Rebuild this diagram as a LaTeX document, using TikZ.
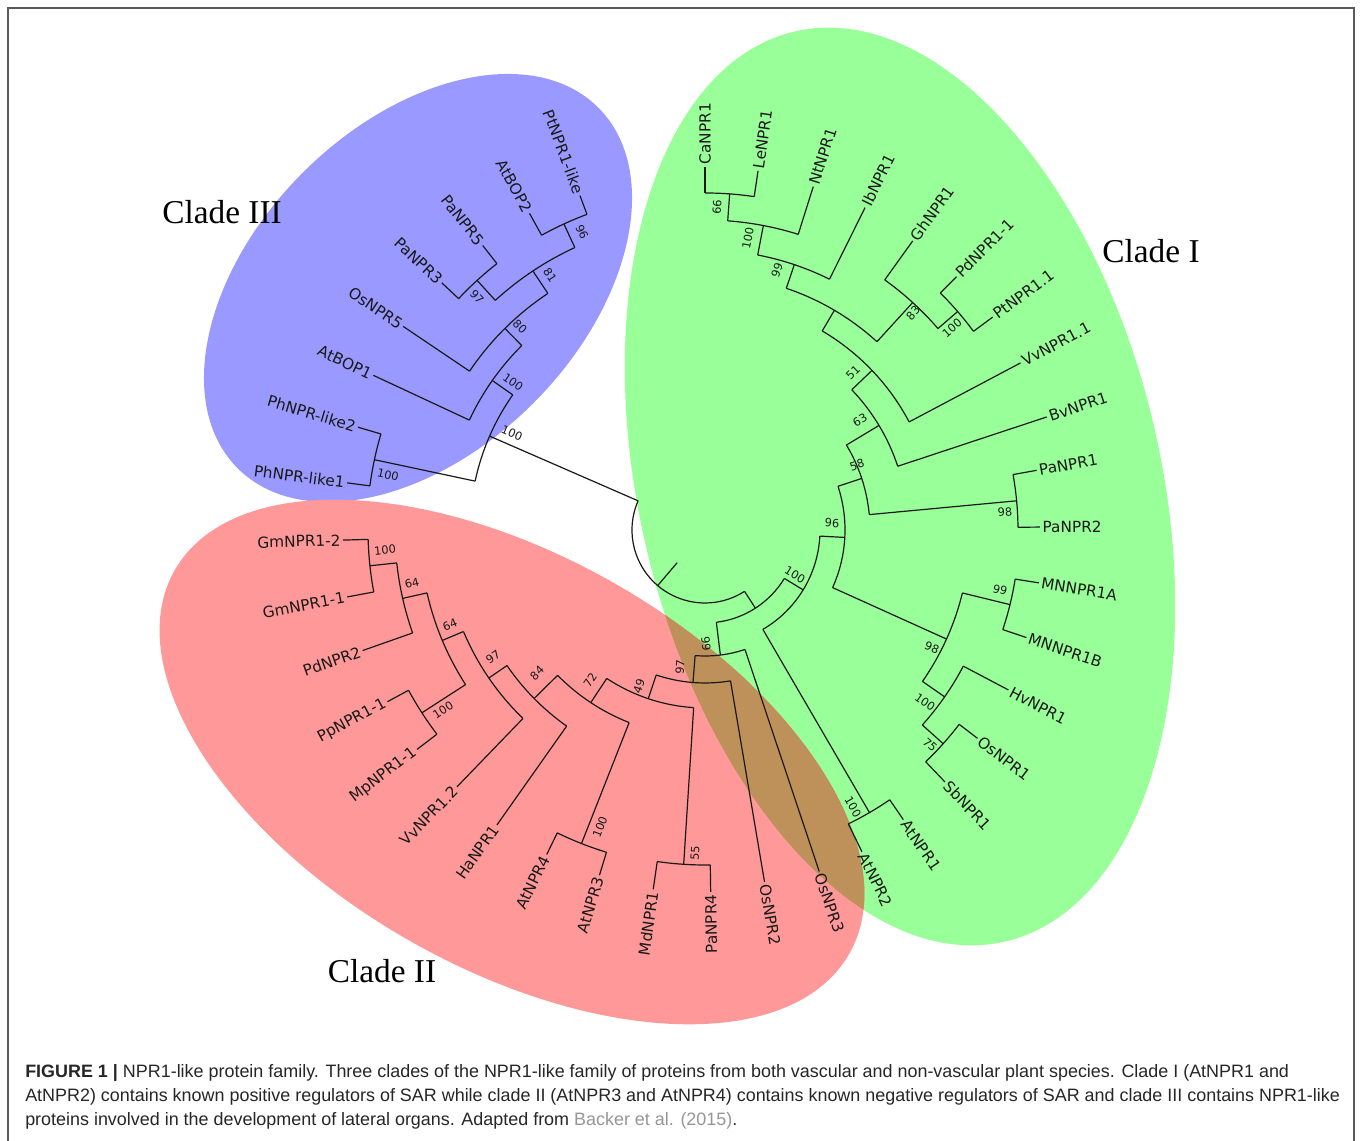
\documentclass[tikz,border=0pt]{standalone}
\usepackage{fontspec}
\usepackage{tikz}
\newfontfamily\leaffont{DejaVu Sans}
\newfontfamily\cladefont{Liberation Serif}
\newfontfamily\capfont{Liberation Sans}
\definecolor{cladeIcol}{RGB}{153,255,153}
\definecolor{cladeIIcol}{RGB}{255,153,153}
\definecolor{cladeIIIcol}{RGB}{153,153,255}
\definecolor{overlapcol}{RGB}{191,145,90}
\definecolor{framecol}{RGB}{90,90,90}
\definecolor{refcol}{RGB}{150,150,150}

\begin{document}
\begin{tikzpicture}[x=0.75pt, y=0.75pt,
        branch/.style={line width=0.9pt, black!90},
        leaf/.style={font=\leaffont\fontsize{11.5}{13}\selectfont, inner sep=1.5pt, text=black!90},
        boot/.style={font=\leaffont\fontsize{8.5}{10}\selectfont, inner sep=0pt, text=black!90},
        clade/.style={font=\cladefont\fontsize{25}{30}\selectfont},
        capline/.style={anchor=base west, inner sep=0pt, font=\capfont\fontsize{13.45}{15}\selectfont, text=black!85}]

        \useasboundingbox (0,0) rectangle (1360,1141);
        \fill[white] (0,0) rectangle (1360,1141);
        \draw[framecol, line width=1.5pt] (8,-5) -- (8,1133) -- (1354,1133) -- (1354,-5);

        % clade ellipses
        \fill[cladeIIIcol, rotate around={45:(418,853)}] (418,853) ellipse [x radius=255, y radius=163];
        \fill[cladeIcol, rotate around={103:(900,654.5)}] (900,654.5) ellipse [x radius=467, y radius=261];
        \fill[cladeIIcol, rotate around={-29.6:(512,379)}] (512,379) ellipse [x radius=388, y radius=206];
        \begin{scope}
            \clip[rotate around={-29.6:(512,379)}] (512,379) ellipse [x radius=388, y radius=206];
            \fill[overlapcol, rotate around={103:(900,654.5)}] (900,654.5) ellipse [x radius=467, y radius=261];
        \end{scope}

        \node[clade] (cladeIII) at (222,929) {Clade III};
        \node[clade] (cladeI) at (1151,890) {Clade I};
        \node[clade] (cladeII) at (382,170) {Clade II};

        % the tree, polar about the centre
        \begin{scope}[shift={(705,611)}, branch]
            \coordinate (root) at (229.6:43);
            % clade I
            \coordinate (nCaLe) at (85.8:337);
            \coordinate (nNt) at (79.15:310);
            \coordinate (nIb) at (71.4:280);
            \coordinate (nPd) at (40.85:334);
            \coordinate (nGh) at (47.6:308);
            \coordinate (nX) at (59.5:255);
            \coordinate (nVv) at (43.7:231);
            \coordinate (nBv) at (31:203);
            \coordinate (nPa) at (5.35:313);
            \coordinate (nPaG) at (18.2:165);
            \coordinate (nMN) at (346.25:314);
            \coordinate (nOs) at (318.1:320);
            \coordinate (nHv) at (325.15:292);
            \coordinate (nMono) at (335.7:265);
            \coordinate (n96) at (356.95:140);
            \coordinate (nAt) at (300.2:327);
            \coordinate (nCladeI) at (328.6:115);
            \coordinate (nA) at (302.8:93);
            % clade II
            \coordinate (n66b) at (277:126);
            \coordinate (n97b) at (265.5:153);
            \coordinate (n49) at (251.4:178);
            \coordinate (n55) at (266.35:335);
            \coordinate (n72) at (236.5:207);
            \coordinate (nAt34) at (248.5:337);
            \coordinate (n84) at (224.6:240);
            \coordinate (n97a) at (214.4:262);
            \coordinate (n64b) at (202.8:285);
            \coordinate (nPpMp) at (212.85:337);
            \coordinate (nPd2) at (192.75:310);
            \coordinate (nGm) at (186.1:337);
            % clade III
            \coordinate (nPh) at (168:338);
            \coordinate (n96c) at (114.75:337);
            \coordinate (n97c) at (132.4:338);
            \coordinate (n81) at (123.6:311);
            \coordinate (n80) at (134.8:284);
            \coordinate (n100c) at (144.9:260);
            \coordinate (n100d) at (156.45:235);

            % stems
            \draw (root) -- (229.6:73);
            \draw (nCaLe) -- (85.8:310);
            \draw (nNt) -- (79.15:280);
            \draw (nIb) -- (71.4:255);
            \draw (nPd) -- (40.85:308);
            \draw (nGh) -- (47.6:255);
            \draw (nX) -- (59.5:231);
            \draw (nVv) -- (43.7:203);
            \draw (nBv) -- (31:165);
            \draw (nPa) -- (5.35:165);
            \draw (nPaG) -- (18.2:140);
            \draw (nMN) -- (346.25:265);
            \draw (nOs) -- (318.1:292);
            \draw (nHv) -- (325.15:265);
            \draw (nMono) -- (335.7:140);
            \draw (n96) -- (356.95:115);
            \draw (nAt) -- (300.2:115);
            \draw (nCladeI) -- (328.6:93);
            \draw (nA) -- (302.8:73);
            \draw (n66b) -- (277:93);
            \draw (n97b) -- (265.5:126);
            \draw (n49) -- (251.4:153);
            \draw (n55) -- (266.35:178);
            \draw (n72) -- (236.5:178);
            \draw (nAt34) -- (248.5:207);
            \draw (n84) -- (224.6:207);
            \draw (n97a) -- (214.4:240);
            \draw (n64b) -- (202.8:262);
            \draw (nPpMp) -- (212.85:285);
            \draw (nPd2) -- (192.75:285);
            \draw (nGm) -- (186.1:310);
            \draw (nPh) -- (168:235);
            \draw (n96c) -- (114.75:311);
            \draw (n97c) -- (132.4:311);
            \draw (n81) -- (123.6:284);
            \draw (n80) -- (134.8:260);
            \draw (n100c) -- (144.9:235);
            \draw (n100d) -- (156.45:73);

            % arcs
            \draw (156.45:73) arc[start angle=156.45, end angle=302.8, radius=73];
            \draw (81.6:337) arc[start angle=81.6, end angle=90, radius=337];
            \draw (72.5:310) arc[start angle=72.5, end angle=85.8, radius=310];
            \draw (63.6:280) arc[start angle=63.6, end angle=79.15, radius=280];
            \draw (36.5:334) arc[start angle=36.5, end angle=45.2, radius=334];
            \draw (40.85:308) arc[start angle=40.85, end angle=54.3, radius=308];
            \draw (47.6:255) arc[start angle=47.6, end angle=71.4, radius=255];
            \draw (27.9:231) arc[start angle=27.9, end angle=59.5, radius=231];
            \draw (18.3:203) arc[start angle=18.3, end angle=43.7, radius=203];
            \draw (0.5:313) arc[start angle=0.5, end angle=10.2, radius=313];
            \draw (5.35:165) arc[start angle=5.35, end angle=31, radius=165];
            \draw (341.5:314) arc[start angle=341.5, end angle=351, radius=314];
            \draw (313.6:320) arc[start angle=313.6, end angle=322.6, radius=320];
            \draw (318.1:292) arc[start angle=318.1, end angle=332.2, radius=292];
            \draw (325.15:265) arc[start angle=325.15, end angle=346.25, radius=265];
            \draw (335.7:140) arc[start angle=335.7, end angle=378.2, radius=140];
            \draw (296:327) arc[start angle=296, end angle=304.4, radius=327];
            \draw (300.2:115) arc[start angle=300.2, end angle=356.95, radius=115];
            \draw (277:93) arc[start angle=277, end angle=328.6, radius=93];
            \draw (265.5:126) arc[start angle=265.5, end angle=288.5, radius=126];
            \draw (251.4:153) arc[start angle=251.4, end angle=279.6, radius=153];
            \draw (236.5:178) arc[start angle=236.5, end angle=266.35, radius=178];
            \draw (261.8:335) arc[start angle=261.8, end angle=270.9, radius=335];
            \draw (224.6:207) arc[start angle=224.6, end angle=248.5, radius=207];
            \draw (244:337) arc[start angle=244, end angle=253, radius=337];
            \draw (214.4:240) arc[start angle=214.4, end angle=234.8, radius=240];
            \draw (202.8:262) arc[start angle=202.8, end angle=226, radius=262];
            \draw (192.75:285) arc[start angle=192.75, end angle=212.85, radius=285];
            \draw (208.4:337) arc[start angle=208.4, end angle=217.3, radius=337];
            \draw (186.1:310) arc[start angle=186.1, end angle=199.4, radius=310];
            \draw (181.6:337) arc[start angle=181.6, end angle=190.6, radius=337];
            \draw (163.5:338) arc[start angle=163.5, end angle=172.5, radius=338];
            \draw (110.5:337) arc[start angle=110.5, end angle=119, radius=337];
            \draw (128:338) arc[start angle=128, end angle=136.8, radius=338];
            \draw (114.75:311) arc[start angle=114.75, end angle=132.4, radius=311];
            \draw (123.6:284) arc[start angle=123.6, end angle=146, radius=284];
            \draw (134.8:260) arc[start angle=134.8, end angle=155, radius=260];
            \draw (144.9:235) arc[start angle=144.9, end angle=168, radius=235];

            % leaves, clade I
            \node[leaf, anchor=west, rotate=90] (CaNPR1) at (90:363) {CaNPR1};
            \node[leaf, anchor=west, rotate=81.6] (LeNPR1) at (81.6:363) {LeNPR1};
            \node[leaf, anchor=west, rotate=72.5] (NtNPR1) at (72.5:360) {NtNPR1};
            \node[leaf, anchor=west, rotate=63.6] (IbNPR1) at (63.6:360) {IbNPR1};
            \node[leaf, anchor=west, rotate=54.3] (GhNPR1) at (54.3:356) {GhNPR1};
            \node[leaf, anchor=west, rotate=45.2] (PdNPR1-1) at (45.2:357) {PdNPR1-1};
            \node[leaf, anchor=west, rotate=36.5] (PtNPR11) at (36.5:358) {PtNPR1.1};
            \node[leaf, anchor=west, rotate=27.9] (VvNPR11) at (27.9:357) {VvNPR1.1};
            \node[leaf, anchor=west, rotate=18.3] (BvNPR1) at (18.3:360) {BvNPR1};
            \node[leaf, anchor=west, rotate=10.2] (PaNPR1) at (10.2:337) {PaNPR1};
            \node[leaf, anchor=west, rotate=0.5] (PaNPR2) at (0.5:335) {PaNPR2};
            \node[leaf, anchor=west, rotate=351] (MNNPR1A) at (351:338) {MNNPR1A};
            \node[leaf, anchor=west, rotate=341.5] (MNNPR1B) at (341.5:339) {MNNPR1B};
            \node[leaf, anchor=west, rotate=332.2] (HvNPR1) at (332.2:343) {HvNPR1};
            \node[leaf, anchor=west, rotate=322.6] (OsNPR1) at (322.6:343) {OsNPR1};
            \node[leaf, anchor=west, rotate=313.6] (SbNPR1) at (313.6:348) {SbNPR1};
            \node[leaf, anchor=west, rotate=304.4] (AtNPR1) at (304.4:351) {AtNPR1};
            \node[leaf, anchor=west, rotate=296] (AtNPR2) at (296:358) {AtNPR2};
            \draw (90:337) -- (CaNPR1.west);
            \draw (81.6:337) -- (LeNPR1.west);
            \draw (72.5:310) -- (NtNPR1.west);
            \draw (63.6:280) -- (IbNPR1.west);
            \draw (54.3:308) -- (GhNPR1.west);
            \draw (45.2:334) -- (PdNPR1-1.west);
            \draw (36.5:334) -- (PtNPR11.west);
            \draw (27.9:231) -- (VvNPR11.west);
            \draw (18.3:203) -- (BvNPR1.west);
            \draw (10.2:313) -- (PaNPR1.west);
            \draw (0.5:313) -- (PaNPR2.west);
            \draw (351:314) -- (MNNPR1A.west);
            \draw (341.5:314) -- (MNNPR1B.west);
            \draw (332.2:292) -- (HvNPR1.west);
            \draw (322.6:320) -- (OsNPR1.west);
            \draw (313.6:320) -- (SbNPR1.west);
            \draw (304.4:327) -- (AtNPR1.west);
            \draw (296:327) -- (AtNPR2.west);

            % leaves, clade II
            \node[leaf, anchor=west, rotate=288.5] (OsNPR3) at (288.5:360) {OsNPR3};
            \node[leaf, anchor=west, rotate=279.6] (OsNPR2) at (279.6:357) {OsNPR2};
            \node[leaf, anchor=east, rotate=90.9] (PaNPR4) at (270.9:362) {PaNPR4};
            \node[leaf, anchor=east, rotate=81.8] (MdNPR1) at (261.8:363) {MdNPR1};
            \node[leaf, anchor=east, rotate=73] (AtNPR3) at (253:361) {AtNPR3};
            \node[leaf, anchor=east, rotate=64] (AtNPR4) at (244:361) {AtNPR4};
            \node[leaf, anchor=east, rotate=54.8] (HaNPR1) at (234.8:361) {HaNPR1};
            \node[leaf, anchor=east, rotate=46] (VvNPR12) at (226:357) {VvNPR1.2};
            \node[leaf, anchor=east, rotate=37.3] (MpNPR1-1) at (217.3:362) {MpNPR1-1};
            \node[leaf, anchor=east, rotate=28.4] (PpNPR1-1) at (208.4:361) {PpNPR1-1};
            \node[leaf, anchor=east, rotate=19.4] (PdNPR2) at (199.4:363) {PdNPR2};
            \node[leaf, anchor=east, rotate=10.6] (GmNPR1-1) at (190.6:364) {GmNPR1-1};
            \node[leaf, anchor=east, rotate=1.6] (GmNPR1-2) at (181.6:362) {GmNPR1-2};
            \draw (288.5:126) -- (OsNPR3.west);
            \draw (279.6:153) -- (OsNPR2.west);
            \draw (270.9:335) -- (PaNPR4.east);
            \draw (261.8:335) -- (MdNPR1.east);
            \draw (253:337) -- (AtNPR3.east);
            \draw (244:337) -- (AtNPR4.east);
            \draw (234.8:240) -- (HaNPR1.east);
            \draw (226:262) -- (VvNPR12.east);
            \draw (217.3:337) -- (MpNPR1-1.east);
            \draw (208.4:337) -- (PpNPR1-1.east);
            \draw (199.4:310) -- (PdNPR2.east);
            \draw (190.6:337) -- (GmNPR1-1.east);
            \draw (181.6:337) -- (GmNPR1-2.east);

            % leaves, clade III
            \node[leaf, anchor=east, rotate=-7.5] (PhNPR-like1) at (172.5:361) {PhNPR-like1};
            \node[leaf, anchor=east, rotate=-16.5] (PhNPR-like2) at (163.5:362) {PhNPR-like2};
            \node[leaf, anchor=east, rotate=-25] (AtBOP1) at (155:366) {AtBOP1};
            \node[leaf, anchor=east, rotate=-34] (OsNPR5) at (146:364) {OsNPR5};
            \node[leaf, anchor=east, rotate=-43.2] (PaNPR3) at (136.8:361) {PaNPR3};
            \node[leaf, anchor=east, rotate=-52] (PaNPR5) at (128:361) {PaNPR5};
            \node[leaf, anchor=east, rotate=-61] (AtBOP2) at (119:362) {AtBOP2};
            \node[leaf, anchor=east, rotate=-69.5] (PtNPR1-like) at (110.5:357) {PtNPR1-like};
            \draw (172.5:338) -- (PhNPR-like1.east);
            \draw (163.5:338) -- (PhNPR-like2.east);
            \draw (155:260) -- (AtBOP1.east);
            \draw (146:284) -- (OsNPR5.east);
            \draw (136.8:338) -- (PaNPR3.east);
            \draw (128:338) -- (PaNPR5.east);
            \draw (119:337) -- (AtBOP2.east);
            \draw (110.5:337) -- (PtNPR1-like.east);
        \end{scope}

        % bootstrap values
        \node[boot, rotate=-65] (b96c) at (582,909) {96};
        \node[boot, rotate=-56] (b81) at (550,866) {81};
        \node[boot, rotate=-48] (b97c) at (477,844) {97};
        \node[boot, rotate=-45] (b80) at (520,814) {80};
        \node[boot, rotate=-35] (b100c) at (513,759) {100};
        \node[boot, rotate=-23.5] (b100d) at (512,708) {100};
        \node[boot, rotate=-12] (bPh) at (388,666) {100};
        \node[boot, rotate=86] (bCaLe) at (717,934) {66};
        \node[boot, rotate=79] (bNt) at (748,903) {100};
        \node[boot, rotate=71] (bIb) at (777,871) {99};
        \node[boot, rotate=48] (bGh) at (913,828) {83};
        \node[boot, rotate=41] (bPd) at (952,813) {100};
        \node[boot, rotate=44] (bVv) at (853,768) {51};
        \node[boot, rotate=31] (bBv) at (860,721) {63};
        \node[boot, rotate=18] (bPaG) at (857,676) {58};
        \node[boot, rotate=5] (bPa) at (1005,629) {98};
        \node[boot, rotate=-3] (b96) at (832,618) {96};
        \node[boot, rotate=-31] (bCladeI) at (795,566) {100};
        \node[boot, rotate=-14] (bMN) at (1000,551) {99};
        \node[boot, rotate=-24] (bMono) at (932,493) {98};
        \node[boot, rotate=-35] (bHv) at (925,439) {100};
        \node[boot, rotate=-42] (bOs) at (930,396) {75};
        \node[boot, rotate=-60] (bAt) at (853,334) {100};
        \node[boot, rotate=6] (bGm) at (385,591) {100};
        \node[boot, rotate=13] (bPd2) at (412,558) {64};
        \node[boot, rotate=23] (b64b) at (450,516) {64};
        \node[boot, rotate=33] (bPpMp) at (443,431) {100};
        \node[boot, rotate=34] (b97a) at (493,484) {97};
        \node[boot, rotate=45] (b84) at (537,468) {84};
        \node[boot, rotate=56.5] (b72) at (590,461) {72};
        \node[boot, rotate=71] (b49) at (639,455) {49};
        \node[boot, rotate=85.5] (b97b) at (680,474) {97};
        \node[boot, rotate=96] (b66b) at (706,497) {66};
        \node[boot, rotate=68.5] (bAt34) at (600,314) {100};
        \node[boot, rotate=86.35] (b55) at (695,288) {55};

        % caption
        \node[capline] (cap1) at (25,63) {\textbf{FIGURE 1 |} NPR1-like protein family. Three clades of the NPR1-like family of proteins from both vascular and non-vascular plant species. Clade I (AtNPR1 and};
        \node[capline] (cap2) at (25,39) {AtNPR2) contains known positive regulators of SAR while clade II (AtNPR3 and AtNPR4) contains known negative regulators of SAR and clade III contains NPR1-like};
        \node[capline] (cap3) at (25,15) {proteins involved in the development of lateral organs. Adapted from \textcolor{refcol}{Backer et al. (2015)}.};
    \end{tikzpicture}
\end{document}
